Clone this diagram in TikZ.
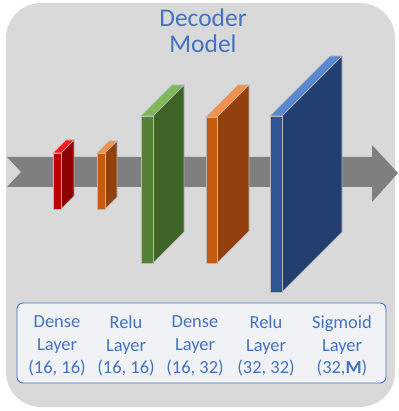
\documentclass[tikz,border=0pt]{standalone}
\usepackage{fontspec}
\setmainfont{Carlito}
\usepackage{xcolor}
\definecolor{panelgray}{HTML}{D9D9D9}
\definecolor{arrowgray}{HTML}{7F7F7F}
\definecolor{textblue}{HTML}{4472C4}
\definecolor{boxfill}{HTML}{F0F2F6}
\definecolor{frontred}{HTML}{C00000}
\definecolor{sidered}{HTML}{8E0000}
\definecolor{topred}{HTML}{FF1A1A}
\definecolor{frontorange}{HTML}{C55A11}
\definecolor{sideorange}{HTML}{92400D}
\definecolor{toporange}{HTML}{F4914D}
\definecolor{frontgreen}{HTML}{548235}
\definecolor{sidegreen}{HTML}{3E6428}
\definecolor{topgreen}{HTML}{7FB85A}
\definecolor{frontblue}{HTML}{2F5597}
\definecolor{sideblue}{HTML}{223F70}
\definecolor{topblue}{HTML}{5B88D3}

\begin{document}
\begin{tikzpicture}[x=0.02cm, y=-0.02cm,
    slab/.style={draw=white!72!black, line width=0.3pt},
    title/.style={font=\fontsize{14.5}{15.2}\selectfont\color{textblue}, anchor=base},
    layertext/.style={font=\fontsize{10.5}{13}\selectfont\color{textblue}, align=center, inner sep=0pt}]
\useasboundingbox (0,0) rectangle (398,411);

% Background panel
\fill[panelgray, rounded corners=0.7cm] (6,3) rectangle (395,407);
\node[title] (title1) at (203,27) {Decoder};
\node[title] (title2) at (203,53) {Model};

% Data flow arrow behind the layers
\fill[arrowgray] (7,157) -- (372,157) -- (372,145) -- (398,173) -- (372,202)
    -- (372,187) -- (7,187) -- (21,172) -- cycle;

% Layers as 3D slabs: front x, top y, width, height, depth, colour
\foreach \fx/\ty/\w/\h/\d/\col in {53/153/8/56/13/red, 97/153/8/56/12/orange,
    141/116/12/147/31/green, 206/117/11/146/32/orange, 270/116/12/176/60/blue} {
    \filldraw[slab, fill=side\col] (\fx+\w,\ty) -- ++(\d,-\d) -- ++(0,\h) -- ++(-\d,\d) -- cycle;
    \filldraw[slab, fill=top\col] (\fx,\ty) -- ++(\d,-\d) -- ++(\w,0) -- ++(-\d,\d) -- cycle;
    \filldraw[slab, fill=front\col] (\fx,\ty) rectangle ++(\w,\h);
}

% Layer descriptions
\draw[textblue, fill=boxfill, rounded corners=0.12cm, line width=0.5pt] (17,303) rectangle (386,383);
\foreach \x/\kind/\dims [count=\i] in {57/Dense/{(16, 16)}, 126/Relu/{(16, 16)},
    195/Dense/{(16, 32)}, 266/Relu/{(32, 32)}, 342/Sigmoid/{(32,\textbf{M})}} {
    \node[layertext] (layer\i) at (\x,346) {\kind\\Layer\\\dims};
}
\end{tikzpicture}
\end{document}
